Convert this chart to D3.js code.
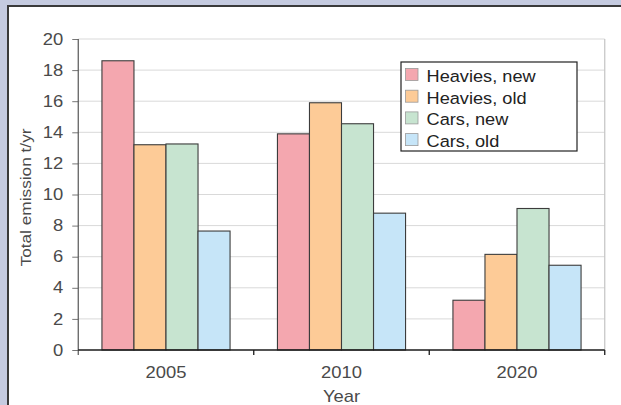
<!DOCTYPE html>
<html><head><meta charset="utf-8">
<script src="https://cdn.jsdelivr.net/npm/d3@7"></script>
<style>
html,body{margin:0;padding:0;background:#c5cbe0;}
svg{display:block;font-family:"Liberation Sans",Arial,sans-serif;}
</style></head>
<body>
<svg id="chart" width="621" height="405"></svg>
<script>
const years = ["2005", "2010", "2020"];
const seriesNames = ["Heavies, new", "Heavies, old", "Cars, new", "Cars, old"];
const heaviesNew = [18.6, 13.9, 3.2];
const heaviesOld = [13.2, 15.9, 6.15];
const carsNew = [13.25, 14.55, 9.1];
const carsOld = [7.65, 8.8, 5.45];
const yTicks = [0, 2, 4, 6, 8, 10, 12, 14, 16, 18, 20];
const colors = ["#f4a7af", "#fdcb97", "#c7e4d0", "#c6e5f8"];

const seriesValues = [heaviesNew, heaviesOld, carsNew, carsOld];
const svg = d3.select("#chart");

// outer frame
svg.append("rect").attr("x", 0).attr("y", 0).attr("width", 621).attr("height", 405).attr("fill", "#c5cbe0");
svg.append("rect").attr("x", 8).attr("y", 6).attr("width", 640).attr("height", 420)
  .attr("fill", "#ffffff").attr("stroke", "#3a3a3a").attr("stroke-width", 2);

const pLeft = 78.25, pRight = 604.75, pTop = 39, pBottom = 350;
const x0 = d3.scaleBand().domain(years).range([pLeft, pRight]).paddingInner(0.27).paddingOuter(0.135);
const x1 = d3.scaleBand().domain(d3.range(seriesNames.length)).range([0, x0.bandwidth()]).padding(0);
const y = d3.scaleLinear().domain([0, 20]).range([pBottom, pTop]);

// gridlines
svg.append("g").selectAll("line").data(yTicks.filter(d => d > 0)).join("line")
  .attr("x1", pLeft).attr("x2", pRight).attr("y1", d => y(d)).attr("y2", d => y(d))
  .attr("stroke", "#d9d9d9").attr("stroke-width", 1);
// right border
svg.append("line").attr("x1", pRight).attr("x2", pRight).attr("y1", pTop).attr("y2", pBottom)
  .attr("stroke", "#c4c4c4").attr("stroke-width", 1.2);

// bars
const groups = svg.append("g").selectAll("g").data(years).join("g")
  .attr("transform", d => `translate(${x0(d)},0)`);
groups.selectAll("rect").data((d, i) => seriesValues.map((s, k) => ({k, v: s[i]}))).join("rect")
  .attr("x", d => x1(d.k)).attr("width", x1.bandwidth())
  .attr("y", d => y(d.v)).attr("height", d => y(0) - y(d.v))
  .attr("fill", d => colors[d.k]).attr("stroke", "#3c3c3c").attr("stroke-width", 1.1);

// y axis
const yAxis = svg.append("g").attr("transform", `translate(${pLeft},0)`)
  .call(d3.axisLeft(y).tickValues(yTicks).tickSize(6).tickPadding(7));
yAxis.select(".domain").remove();
yAxis.append("line").attr("x1", 0).attr("x2", 0).attr("y1", pTop).attr("y2", pBottom + 5)
  .attr("stroke", "#555").attr("stroke-width", 1.2);
yAxis.selectAll(".tick line").attr("stroke", "#777");
yAxis.selectAll("text").attr("font-size", 16).attr("fill", "#4a4a4a")
  .attr("font-family", "Liberation Sans, Arial, sans-serif")
  .attr("transform", "scale(1.15,1)");

// x axis
const xAxis = svg.append("g").attr("transform", `translate(0,${pBottom})`)
  .call(d3.axisBottom(x0).tickSize(0).tickPadding(16.5));
xAxis.select(".domain").remove();
xAxis.append("line").attr("x1", pLeft).attr("x2", pRight).attr("y1", 0).attr("y2", 0)
  .attr("stroke", "#1a1a1a").attr("stroke-width", 1.5);
xAxis.selectAll("text").attr("font-size", 16).attr("fill", "#4a4a4a")
  .attr("font-family", "Liberation Sans, Arial, sans-serif")
  .attr("transform", "scale(1.15,1)");
xAxis.append("g").selectAll("line").data(d3.range(1, years.length + 1)).join("line")
  .attr("x1", i => pLeft + x0.step() * i).attr("x2", i => pLeft + x0.step() * i)
  .attr("y1", 0).attr("y2", 5).attr("stroke", "#1a1a1a").attr("stroke-width", 1.3);

// axis titles
svg.append("text").attr("transform", "translate(31,197.5) rotate(-90) scale(1.15,1)")
  .attr("text-anchor", "middle").attr("font-size", 15).attr("fill", "#4a4a4a")
  .text("Total emission t/yr");
svg.append("text").attr("transform", `translate(${(pLeft + pRight) / 2},402) scale(1.15,1)`)
  .attr("text-anchor", "middle").attr("font-size", 16).attr("fill", "#4a4a4a")
  .text("Year");

// legend
const lg = svg.append("g").attr("transform", "translate(401,62)");
lg.append("rect").attr("x", 0).attr("y", 0).attr("width", 176).attr("height", 89)
  .attr("fill", "#fff").attr("stroke", "#222").attr("stroke-width", 1.2);
const items = lg.selectAll("g.item").data(seriesNames).join("g").attr("class", "item")
  .attr("transform", (d, i) => `translate(0,${20 + i * 21.7})`);
items.append("rect").attr("x", 4.5).attr("y", -13.5).attr("width", 12.5).attr("height", 12)
  .attr("fill", (d, i) => colors[i]).attr("stroke", "#9a9a9a").attr("stroke-width", 0.8);
items.append("text").attr("transform", "translate(25.5,0) scale(1.07,1)")
  .attr("font-size", 17).attr("fill", "#222").text(d => d);
</script>
</body></html>
